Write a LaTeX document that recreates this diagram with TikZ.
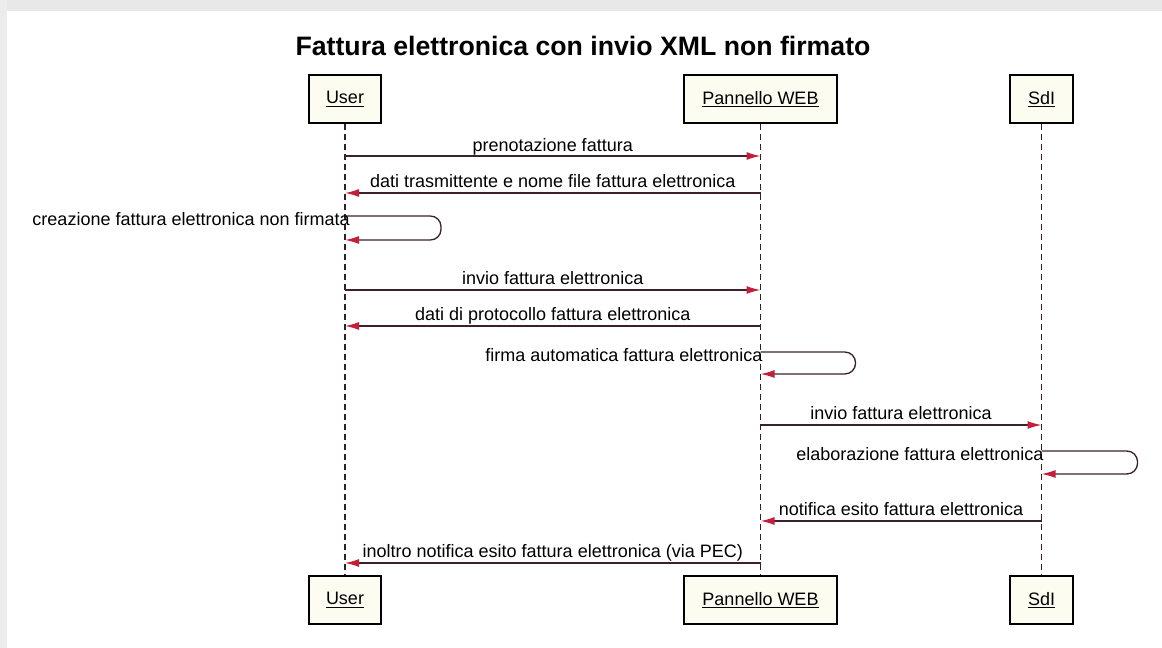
\documentclass[tikz,border=0pt]{standalone}
\usepackage{fontspec}
\setmainfont{Liberation Sans}
\usetikzlibrary{arrows.meta}
\definecolor{arrowred}{HTML}{C41E3A}
\definecolor{msgline}{HTML}{3A2228}
\definecolor{boxfill}{HTML}{FCFCF0}
\definecolor{lifecol}{HTML}{2E2226}
\begin{document}
\begin{tikzpicture}[x=0.75pt,y=-0.75pt,
  actor/.style={draw=black, fill=boxfill, line width=1.2pt, minimum height=36pt, inner sep=2pt, font=\fontsize{13.5}{16}\selectfont},
  life/.style={draw=lifecol, line width=1.1pt, dash pattern=on 4.5pt off 3pt},
  msg/.style={draw=msgline, line width=1pt, -{Latex[length=10.5pt,width=6pt,color=arrowred]}},
  lbl/.style={font=\fontsize{13.5}{16}\selectfont, inner sep=1pt, text=black},
  titlestyle/.style={font=\fontsize{20}{24}\bfseries\selectfont, text=black}]
\useasboundingbox (0,0) rectangle (1162,648);
\fill[gray!18] (0,0) rectangle (1162,11);
\fill[gray!15] (0,0) rectangle (7,648);

\node[titlestyle] (title) at (583,46) {Fattura elettronica con invio XML non firmato};

\node[actor, minimum width=54pt] (u1) at (345,99) {\underline{User}};
\node[actor, minimum width=115pt] (w1) at (760.5,99) {\underline{Pannello WEB}};
\node[actor, minimum width=47pt] (s1) at (1041.5,99) {\underline{SdI}};
\node[actor, minimum width=54pt] (u2) at (345,600) {\underline{User}};
\node[actor, minimum width=115pt] (w2) at (760.5,600) {\underline{Pannello WEB}};
\node[actor, minimum width=47pt] (s2) at (1041.5,600) {\underline{SdI}};

\draw[life] (u1) -- (u2);
\draw[life] (w1) -- (w2);
\draw[life] (s1) -- (s2);

\draw[msg] (u1 |- 0,156) -- (w1 |- 0,156) node[lbl, midway, anchor=base, yshift=3.5pt] {prenotazione fattura};
\draw[msg] (w1 |- 0,193) -- (u1 |- 0,193) node[lbl, midway, anchor=base, yshift=4pt] {dati trasmittente e nome file fattura elettronica};
\draw[msg, rounded corners=8pt] (u1 |- 0,216) node[lbl, anchor=east, xshift=5pt, yshift=-2.5pt] {creazione fattura elettronica non firmata} -- ++(96,0) -- ++(0,24) -- ++(-96,0);
\draw[msg] (u1 |- 0,290) -- (w1 |- 0,290) node[lbl, midway, anchor=base, yshift=4pt] {invio fattura elettronica};
\draw[msg] (w1 |- 0,326) -- (u1 |- 0,326) node[lbl, midway, anchor=base, yshift=4pt] {dati di protocollo fattura elettronica};
\draw[msg, rounded corners=8pt] (w1 |- 0,352) node[lbl, anchor=east, xshift=3pt, yshift=-2.5pt] {firma automatica fattura elettronica} -- ++(95,0) -- ++(0,22) -- ++(-95,0);
\draw[msg] (w1 |- 0,425) -- (s1 |- 0,425) node[lbl, midway, anchor=base, yshift=4pt] {invio fattura elettronica};
\draw[msg, rounded corners=8pt] (s1 |- 0,451) node[lbl, anchor=east, xshift=3pt, yshift=-2.5pt] {elaborazione fattura elettronica} -- ++(96,0) -- ++(0,23) -- ++(-96,0);
\draw[msg] (s1 |- 0,521) -- (w1 |- 0,521) node[lbl, midway, anchor=base, yshift=4pt] {notifica esito fattura elettronica};
\draw[msg] (w1 |- 0,563) -- (u1 |- 0,563) node[lbl, midway, anchor=base, yshift=4pt] {inoltro notifica esito fattura elettronica (via PEC)};
\end{tikzpicture}
\end{document}
